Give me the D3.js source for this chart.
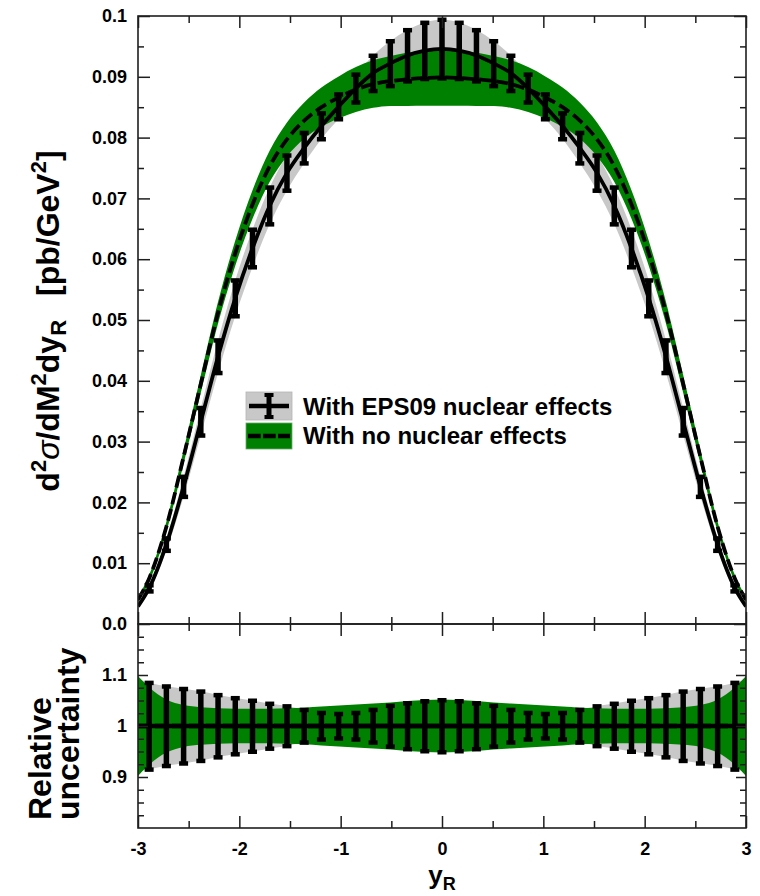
<!DOCTYPE html>
<html>
<head>
<meta charset="utf-8">
<script src="https://cdn.jsdelivr.net/npm/d3@7"></script>
<style>
  html, body { margin: 0; padding: 0; background: #fff; }
  svg text { font-family: "Liberation Sans", Arial, Helvetica, sans-serif; font-weight: bold; fill: #000; }
</style>
</head>
<body>
<svg id="chart" width="760" height="896"></svg>
<script>
// Rapidity points (bin centres of the EPS09 error bars, plus the edges of the range)
const yR = [-3.00, -2.89, -2.72, -2.55, -2.38, -2.21, -2.04, -1.87, -1.70, -1.53, -1.36, -1.19,
            -1.02, -0.85, -0.68, -0.51, -0.34, -0.17, 0.00, 0.17, 0.34, 0.51, 0.68, 0.85,
            1.02, 1.19, 1.36, 1.53, 1.70, 1.87, 2.04, 2.21, 2.38, 2.55, 2.72, 2.89, 3.00];

// d2sigma/dM2dyR [pb/GeV2] with EPS09 nuclear effects
const eps09 = [0.0029, 0.0059, 0.0131, 0.0226, 0.0333, 0.0440, 0.0536, 0.0618, 0.0688, 0.0742, 0.0783, 0.0819,
               0.0851, 0.0881, 0.0906, 0.0922, 0.0935, 0.0943, 0.0946, 0.0943, 0.0935, 0.0922, 0.0906, 0.0881,
               0.0851, 0.0819, 0.0783, 0.0742, 0.0688, 0.0618, 0.0536, 0.0440, 0.0333, 0.0226, 0.0131, 0.0059, 0.0029];
// relative uncertainty of the EPS09 prediction
const eps09Rel = [0.090, 0.085, 0.078, 0.073, 0.068, 0.061, 0.055, 0.050, 0.044, 0.039, 0.032, 0.026,
                  0.024, 0.026, 0.032, 0.040, 0.045, 0.049, 0.051, 0.049, 0.045, 0.040, 0.032, 0.026,
                  0.024, 0.026, 0.032, 0.039, 0.044, 0.050, 0.055, 0.061, 0.068, 0.073, 0.078, 0.085, 0.090];

// d2sigma/dM2dyR [pb/GeV2] with no nuclear effects
const noNuc = [0.0040, 0.0075, 0.0160, 0.0275, 0.0395, 0.0512, 0.0610, 0.0690, 0.0753, 0.0797, 0.0828, 0.0850,
               0.0866, 0.0879, 0.0888, 0.0893, 0.0896, 0.0898, 0.0899, 0.0898, 0.0896, 0.0893, 0.0888, 0.0879,
               0.0866, 0.0850, 0.0828, 0.0797, 0.0753, 0.0690, 0.0610, 0.0512, 0.0395, 0.0275, 0.0160, 0.0075, 0.0040];
// relative uncertainty of the prediction without nuclear effects
const noNucRel = [0.098, 0.076, 0.052, 0.041, 0.037, 0.035, 0.034, 0.034, 0.034, 0.035, 0.036, 0.038,
                  0.040, 0.042, 0.044, 0.046, 0.049, 0.051, 0.052, 0.051, 0.049, 0.046, 0.044, 0.042,
                  0.040, 0.038, 0.036, 0.035, 0.034, 0.034, 0.034, 0.035, 0.037, 0.041, 0.052, 0.076, 0.098];

const xTickValues = [-3, -2, -1, 0, 1, 2, 3];
const xTickLabels = ["-3", "-2", "-1", "0", "1", "2", "3"];
const xMinorValues = [-2.5, -1.5, -0.5, 0.5, 1.5, 2.5];
const topTickValues = [0, 0.01, 0.02, 0.03, 0.04, 0.05, 0.06, 0.07, 0.08, 0.09, 0.1];
const topTickLabels = ["0.0", "0.01", "0.02", "0.03", "0.04", "0.05", "0.06", "0.07", "0.08", "0.09", "0.1"];
const topMinorValues = [0.005, 0.015, 0.025, 0.035, 0.045, 0.055, 0.065, 0.075, 0.085, 0.095];
const ratioTickValues = [0.9, 1, 1.1];
const ratioTickLabels = ["0.9", "1", "1.1"];
const ratioMinorValues = [0.825, 0.85, 0.875, 0.925, 0.95, 0.975, 1.025, 1.05, 1.075, 1.125, 1.15, 1.175];
const legendLabels = ["With EPS09 nuclear effects", "With no nuclear effects"];

const GREY = "#c8c8c8", GREEN = "#008000", INK = "#000", AXIS = "#1e1e1e";

// frame geometry
const F = { left: 138, right: 746, top: 16, mid: 624, bottom: 828 };

const x = d3.scaleLinear().domain([-3, 3]).range([F.left, F.right]);
const yTop = d3.scaleLinear().domain([0, 0.1]).range([F.mid, F.top]);
const yBot = d3.scaleLinear().domain([0.8, 1.2]).range([F.bottom, F.mid]);

const rows = yR.map((t, i) => ({ t, e: eps09[i], eRel: eps09Rel[i], n: noNuc[i], nRel: noNucRel[i] }));
const barRows = rows.filter(d => Math.abs(d.t) < 3);

const svg = d3.select("#chart");
const defs = svg.append("defs");
defs.append("clipPath").attr("id", "clipTop").append("rect")
  .attr("x", F.left).attr("y", F.top).attr("width", F.right - F.left).attr("height", F.mid - F.top);
defs.append("clipPath").attr("id", "clipBot").append("rect")
  .attr("x", F.left).attr("y", F.mid).attr("width", F.right - F.left).attr("height", F.bottom - F.mid);

const curve = d3.curveMonotoneX;

// ---------- upper panel: cross section ----------
const gTop = svg.append("g").attr("clip-path", "url(#clipTop)");
const band = (v, r, ys) => d3.area().curve(curve)
  .x(d => x(d.t)).y0(d => ys(d[v] * (1 - d[r]))).y1(d => ys(d[v] * (1 + d[r])));

gTop.append("path").datum(rows).attr("d", band("e", "eRel", yTop)).attr("fill", GREY);
gTop.append("path").datum(rows).attr("d", band("n", "nRel", yTop)).attr("fill", GREEN);
gTop.append("path").datum(rows)
  .attr("d", d3.line().curve(curve).x(d => x(d.t)).y(d => yTop(d.n)))
  .attr("fill", "none").attr("stroke", INK).attr("stroke-width", 3.8).attr("stroke-dasharray", "12,5");
gTop.append("path").datum(rows)
  .attr("d", d3.line().curve(curve).x(d => x(d.t)).y(d => yTop(d.e)))
  .attr("fill", "none").attr("stroke", INK).attr("stroke-width", 3.8);

function errorBars(g, lo, hi) {
  const b = g.append("g").selectAll("g").data(barRows).join("g");
  b.append("line")
    .attr("x1", d => x(d.t)).attr("x2", d => x(d.t))
    .attr("y1", lo).attr("y2", hi)
    .attr("stroke", INK).attr("stroke-width", 5.5);
  [lo, hi].forEach(f => {
    b.append("rect")
      .attr("x", d => x(d.t) - 4.5).attr("y", d => f(d) - 2)
      .attr("width", 9).attr("height", 4.5).attr("fill", INK);
  });
}
errorBars(gTop, d => yTop(d.e * (1 - d.eRel)), d => yTop(d.e * (1 + d.eRel)));

// ---------- lower panel: relative uncertainty ----------
const gBot = svg.append("g").attr("clip-path", "url(#clipBot)");
const relBand = r => d3.area().curve(curve)
  .x(d => x(d.t)).y0(d => yBot(1 - d[r])).y1(d => yBot(1 + d[r]));
gBot.append("path").datum(rows).attr("d", relBand("eRel")).attr("fill", GREY);
gBot.append("path").datum(rows).attr("d", relBand("nRel")).attr("fill", GREEN);
gBot.append("path").datum(rows)
  .attr("d", d3.line().x(d => x(d.t)).y(d => yBot(d.n / d.n)))
  .attr("fill", "none").attr("stroke", INK).attr("stroke-width", 4.5).attr("stroke-dasharray", "12,5");
gBot.append("path").datum(rows)
  .attr("d", d3.line().x(d => x(d.t)).y(d => yBot(d.e / d.e)))
  .attr("fill", "none").attr("stroke", INK).attr("stroke-width", 4.5);
errorBars(gBot, d => yBot(1 - d.eRel), d => yBot(1 + d.eRel));

// ---------- axes ----------
function addAxis(axisFn, scale, pos, values, size, labels, pad) {
  const a = axisFn(scale).tickValues(values).tickSizeInner(-size).tickSizeOuter(0)
    .tickPadding(pad || 0)
    .tickFormat(labels ? (d, i) => labels[i] : () => "");
  const horizontal = (axisFn === d3.axisTop || axisFn === d3.axisBottom);
  const g = svg.append("g")
    .attr("transform", horizontal ? `translate(0,${pos})` : `translate(${pos},0)`)
    .call(a);
  g.select(".domain").remove();
  g.selectAll(".tick line").attr("stroke", AXIS).attr("stroke-width", 1.5);
  g.selectAll("text").attr("font-size", 18).attr("fill", "#000");
  return g;
}

// upper panel
addAxis(d3.axisLeft, yTop, F.left, topTickValues, 12, topTickLabels, 11);
addAxis(d3.axisLeft, yTop, F.left, topMinorValues, 6);
addAxis(d3.axisRight, yTop, F.right, topTickValues, 12);
addAxis(d3.axisRight, yTop, F.right, topMinorValues, 6);
addAxis(d3.axisTop, x, F.top, xTickValues, 12);
addAxis(d3.axisTop, x, F.top, xMinorValues, 7);
addAxis(d3.axisBottom, x, F.mid, xTickValues, 12);
addAxis(d3.axisBottom, x, F.mid, xMinorValues, 7);
// lower panel
addAxis(d3.axisLeft, yBot, F.left, ratioTickValues, 10, ratioTickLabels, 11);
addAxis(d3.axisLeft, yBot, F.left, ratioMinorValues, 6);
addAxis(d3.axisRight, yBot, F.right, ratioTickValues, 10);
addAxis(d3.axisRight, yBot, F.right, ratioMinorValues, 6);
addAxis(d3.axisTop, x, F.mid, xTickValues, 12);
addAxis(d3.axisTop, x, F.mid, xMinorValues, 7);
addAxis(d3.axisBottom, x, F.bottom, xTickValues, 12, xTickLabels, 14);
addAxis(d3.axisBottom, x, F.bottom, xMinorValues, 7);

// frames
[[F.top, F.mid], [F.mid, F.bottom]].forEach(([y0, y1]) => {
  svg.append("rect").attr("x", F.left).attr("y", y0)
    .attr("width", F.right - F.left).attr("height", y1 - y0)
    .attr("fill", "none").attr("stroke", AXIS).attr("stroke-width", 1.6);
});

// ---------- titles ----------
const yt = svg.append("text")
  .attr("transform", `translate(59,321) rotate(-90)`)
  .attr("text-anchor", "middle").attr("font-size", 32);
yt.append("tspan").text("d");
yt.append("tspan").attr("font-size", 22).attr("dy", -13).text("2");
yt.append("tspan").attr("dy", 13).attr("font-style", "italic").attr("font-weight", "normal").text("σ");
yt.append("tspan").text("/dM");
yt.append("tspan").attr("font-size", 22).attr("dy", -13).text("2");
yt.append("tspan").attr("dy", 13).text("dy");
yt.append("tspan").attr("font-size", 22).attr("dy", 7).text("R");
yt.append("tspan").attr("dy", -7).attr("dx", 24).text("[pb/GeV");
yt.append("tspan").attr("font-size", 22).attr("dy", -13).text("2");
yt.append("tspan").attr("dy", 13).text("]");

const rt = svg.append("g").attr("transform", "translate(0,820)");
rt.append("text").attr("transform", "translate(51,0) rotate(-90)")
  .attr("font-size", 32).text("Relative");
rt.append("text").attr("transform", "translate(79,0) rotate(-90)")
  .attr("font-size", 32).text("uncertainty");

const xt = svg.append("text").attr("x", x(0)).attr("y", 884)
  .attr("text-anchor", "middle").attr("font-size", 26);
xt.append("tspan").text("y");
xt.append("tspan").attr("font-size", 18).attr("dy", 6).text("R");

// ---------- legend ----------
const lg = svg.append("g").attr("transform", "translate(246,392)");
const box = { w: 46, h: 28 };
const s1 = lg.append("g");
s1.append("rect").attr("width", box.w).attr("height", box.h).attr("fill", GREY).attr("stroke", "#b4b4b4").attr("stroke-width", 0.8);
s1.append("line").attr("x1", 3).attr("x2", box.w - 3).attr("y1", box.h / 2).attr("y2", box.h / 2)
  .attr("stroke", INK).attr("stroke-width", 4.5);
s1.append("line").attr("x1", box.w / 2).attr("x2", box.w / 2).attr("y1", 3).attr("y2", box.h - 3)
  .attr("stroke", INK).attr("stroke-width", 5);
[3, box.h - 3].forEach(yy => s1.append("rect").attr("x", box.w / 2 - 4.5).attr("y", yy - 2)
  .attr("width", 9).attr("height", 4).attr("fill", INK));
const s2 = lg.append("g").attr("transform", "translate(0,31)");
s2.append("rect").attr("width", box.w).attr("height", box.h - 2).attr("fill", GREEN).attr("stroke", "#6aa86a").attr("stroke-width", 0.8);
s2.append("line").attr("x1", 2).attr("x2", box.w - 2).attr("y1", (box.h - 2) / 2).attr("y2", (box.h - 2) / 2)
  .attr("stroke", INK).attr("stroke-width", 4.5).attr("stroke-dasharray", "12.7,2.3");
lg.selectAll("text.lab").data(legendLabels).join("text").attr("class", "lab")
  .attr("x", 57).attr("y", (d, i) => 23 + i * 28.5)
  .attr("font-size", 24).text(d => d);
</script>
</body>
</html>
